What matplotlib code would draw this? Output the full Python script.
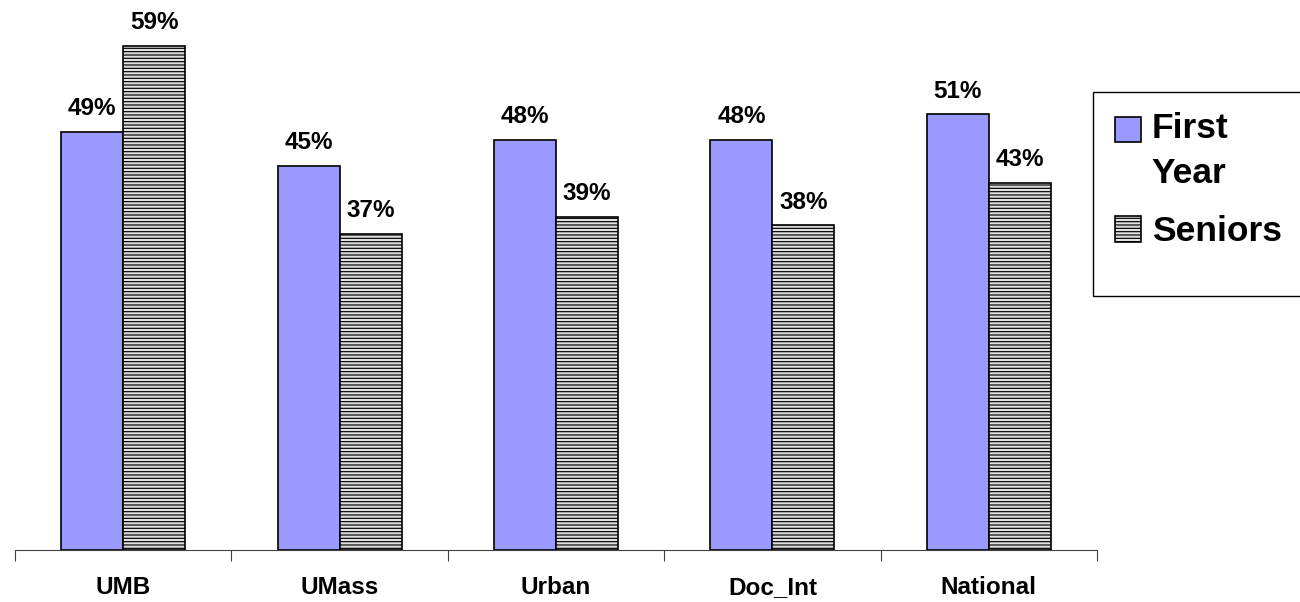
import matplotlib
matplotlib.use("Agg")
import matplotlib.pyplot as plt
from matplotlib.patches import Rectangle
import numpy as np

categories = ["UMB", "UMass", "Urban", "Doc_Int", "National"]
first_year = [49, 45, 48, 48, 51]
seniors = [59, 37, 39, 38, 43]
series_names = ["First\nYear", "Seniors"]

plt.rcParams['font.family'] = ['Liberation Sans', 'DejaVu Sans']
plt.rcParams['hatch.linewidth'] = 0.85
plt.rcParams['hatch.color'] = '#939393'

W, H = 1300, 602
DPI = 100
fig = plt.figure(figsize=(13, 6.02), dpi=DPI)
x0, x1, yb = 15, 1097, 550
ymax = 64.0
ppu = 8.54
ax = fig.add_axes([x0 / W, 1 - yb / H, (x1 - x0) / W, ymax * ppu / H])

x = np.arange(len(categories))
bw = 62 / 216.4
b1 = ax.bar(x - bw / 2, first_year, bw, color='#9999ff', edgecolor='black', linewidth=1.2)
b2 = ax.bar(x + bw / 2, seniors, bw, color='#e0e0e0', edgecolor='black', linewidth=1.2,
            hatch='-----')

for rects, vals in ((b1, first_year), (b2, seniors)):
    for r, v in zip(rects, vals):
        ax.annotate(f"{v}%", (r.get_x() + r.get_width() / 2, v), xytext=(0, 12),
                    textcoords='offset points', ha='center', va='baseline',
                    fontsize=17.5, fontweight='bold')

ax.set_xlim(-0.5, len(categories) - 0.5)
ax.set_ylim(0, ymax)
ax.set_yticks([])
for s in ['top', 'right', 'left']:
    ax.spines[s].set_visible(False)
ax.spines['bottom'].set_color('#404040')
ax.set_xticks(np.arange(len(categories) + 1) - 0.5, minor=False)
ax.set_xticklabels([])
ax.tick_params(axis='x', length=8, direction='out', color='#404040')
for i, c in enumerate(categories):
    ax.annotate(c, (i, 0), xytext=(0, -32), textcoords='offset points',
                ha='center', va='baseline', fontsize=17.5, fontweight='bold')

# legend box
fig.patches.append(Rectangle((1093 / W, 1 - 296 / H), 300 / W, 204 / H,
                             transform=fig.transFigure, facecolor='white',
                             edgecolor='black', linewidth=1.0))
leg = fig.legend([b1, b2], series_names, loc='upper left',
                 bbox_to_anchor=(1115 / W, 1 - 112 / H), frameon=False,
                 prop={'size': 25.5, 'weight': 'bold'}, handlelength=0.74,
                 handleheight=0.74, handletextpad=0.3, labelspacing=0.72,
                 borderpad=0, borderaxespad=0)
for t in leg.get_texts():
    t.set_linespacing(1.46)

# align the first handle with the first text line
fig.canvas.draw()
r = fig.canvas.get_renderer()
txt_ext = leg.get_texts()[0].get_window_extent(r)
h = leg.legend_handles[0]
h_ext = h.get_window_extent(r)
target_top = txt_ext.y1 - 4.6
dy_px = target_top - h_ext.y1
h.set_y(h.get_y() + dy_px * 72.0 / DPI)

fig.savefig("out.png", dpi=DPI)
